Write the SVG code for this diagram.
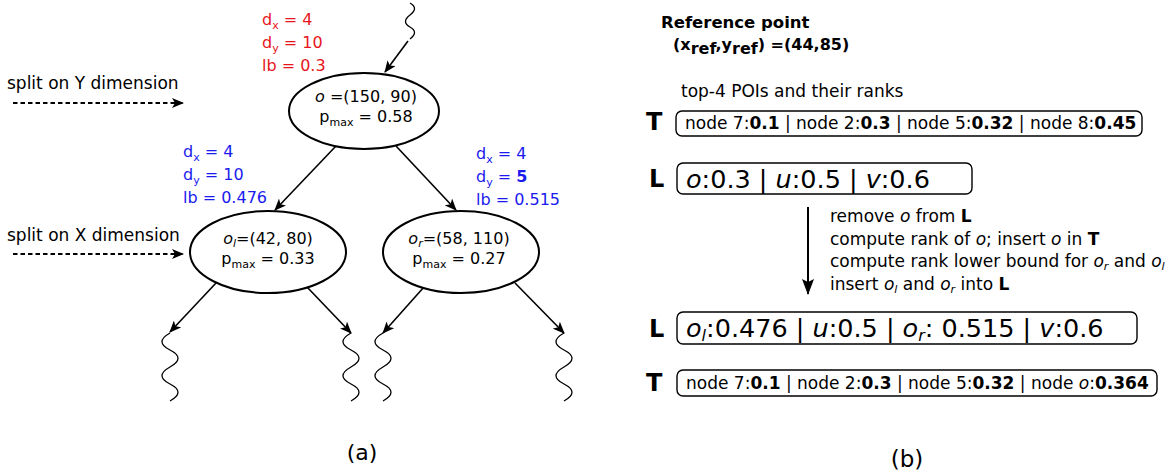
<svg xmlns="http://www.w3.org/2000/svg" width="1174" height="476" viewBox="0 0 1174 476">
<defs>
<style>
text{font-family:"DejaVu Sans","Liberation Sans",sans-serif;fill:#000}
.n{fill:#fff;stroke:#000;stroke-width:2}
.e{stroke:#000;stroke-width:1.6;fill:none;marker-end:url(#ah)}
.d{stroke:#000;stroke-width:2;fill:none;stroke-dasharray:4.5,3;marker-end:url(#ah)}
.w{stroke:#000;stroke-width:1.3;fill:none}
.box{fill:none;stroke:#000;stroke-width:1.4}
.red{fill:#e8141c;font-size:16px}
.blue{fill:#1a1aee;font-size:16px}
.it{font-style:italic}
.b{font-weight:bold}
.sub{font-size:11px}
</style>
<marker id="ah" markerWidth="12" markerHeight="10" refX="11" refY="5" orient="auto" markerUnits="userSpaceOnUse">
<path d="M0,0 L12,5 L0,10 L3,5 z" fill="#000"/>
</marker>
<marker id="ah2" markerWidth="16" markerHeight="12" refX="15" refY="6" orient="auto" markerUnits="userSpaceOnUse">
<path d="M0,0 L16,6 L0,12 L3,6 z" fill="#000"/>
</marker>
</defs>

<g id="connectors">
<path class="w" d="M410,3 q9,5 0,12 t0,12 t0,12"/>
<line class="e" x1="408" y1="41" x2="385" y2="72"/>
<line class="e" x1="336" y1="146" x2="275" y2="210"/>
<line class="e" x1="396" y1="146" x2="456" y2="210"/>
<line class="e" x1="216" y1="283" x2="170" y2="332"/>
<line class="e" x1="307" y1="287" x2="351" y2="333"/>
<line class="e" x1="424" y1="287" x2="383" y2="333"/>
<line class="e" x1="515" y1="283" x2="564" y2="333"/>
<path class="w" d="M170,333 q-16,9 0,17 t0,17 t0,17 t0,17"/>
<path class="w" d="M351,333 q-16,9 0,17 t0,17 t0,17 t0,17"/>
<path class="w" d="M383,333 q-16,9 0,17 t0,17 t0,17 t0,17"/>
<path class="w" d="M564,333 q-16,9 0,17 t0,17 t0,17 t0,17"/>
<line class="d" x1="13" y1="103" x2="183" y2="103"/>
<line class="d" x1="13" y1="254" x2="183" y2="254"/>
<line x1="808" y1="207" x2="808" y2="294" style="stroke:#000;stroke-width:2;marker-end:url(#ah2)"/>
</g>

<g id="labels-left">
<text x="7" y="89" font-size="17">split on Y dimension</text>
<text x="7" y="241" font-size="17">split on X dimension</text>
<text class="red" x="262" y="25">d<tspan class="sub" dy="4">x</tspan><tspan dy="-4"> = 4</tspan></text>
<text class="red" x="262" y="48">d<tspan class="sub" dy="4">y</tspan><tspan dy="-4"> = 10</tspan></text>
<text class="red" x="262" y="71">lb = 0.3</text>
<text class="blue" x="183" y="157">d<tspan class="sub" dy="4">x</tspan><tspan dy="-4"> = 4</tspan></text>
<text class="blue" x="183" y="180">d<tspan class="sub" dy="4">y</tspan><tspan dy="-4"> = 10</tspan></text>
<text class="blue" x="183" y="203">lb = 0.476</text>
<text class="blue" x="476" y="159">d<tspan class="sub" dy="4">x</tspan><tspan dy="-4"> = 4</tspan></text>
<text class="blue" x="476" y="182">d<tspan class="sub" dy="4">y</tspan><tspan dy="-4"> = </tspan><tspan class="b">5</tspan></text>
<text class="blue" x="476" y="205">lb = 0.515</text>
<text x="362" y="460" font-size="22" text-anchor="middle">(a)</text>
<text x="907" y="467" font-size="23" text-anchor="middle">(b)</text>
</g>

<g id="node-root">
<ellipse class="n" cx="364" cy="111" rx="75" ry="38"/>
<text x="366" y="102" font-size="16" text-anchor="middle"><tspan class="it">o</tspan> =(150, 90)</text>
<text x="366" y="122" font-size="16" text-anchor="middle">p<tspan class="sub" dy="4">max</tspan><tspan dy="-4"> = 0.58</tspan></text>
</g>

<g id="node-left">
<ellipse class="n" cx="268" cy="252" rx="78" ry="41"/>
<text x="268" y="244" font-size="16" text-anchor="middle"><tspan class="it">o</tspan><tspan class="sub it" dy="3">l</tspan><tspan dy="-3">=(42, 80)</tspan></text>
<text x="268" y="264" font-size="16" text-anchor="middle">p<tspan class="sub" dy="4">max</tspan><tspan dy="-4"> = 0.33</tspan></text>
</g>

<g id="node-right">
<ellipse class="n" cx="461" cy="252" rx="78" ry="41"/>
<text x="459" y="244" font-size="16" text-anchor="middle"><tspan class="it">o</tspan><tspan class="sub it" dy="3">r</tspan><tspan dy="-3">=(58, 110)</tspan></text>
<text x="459" y="264" font-size="16" text-anchor="middle">p<tspan class="sub" dy="4">max</tspan><tspan dy="-4"> = 0.27</tspan></text>
</g>

<g id="panel-b">
<text class="b" x="661" y="28" font-size="16.5">Reference point</text>
<text class="b" x="673" y="50" font-size="16">(x<tspan dy="4">ref</tspan><tspan dy="-4">,y</tspan><tspan dy="4">ref</tspan><tspan dy="-4">) =(44,85)</tspan></text>
<text x="681" y="97" font-size="17">top-4 POIs and their ranks</text>
</g>

<g id="node-T1">
<text class="b" x="646" y="130" font-size="24">T</text>
<rect class="box" x="676" y="111" width="466" height="25" rx="6"/>
<text x="685" y="129" font-size="17">node 7:<tspan class="b">0.1</tspan> | node 2:<tspan class="b">0.3</tspan> | node 5:<tspan class="b">0.32</tspan> | node 8:<tspan class="b">0.45</tspan></text>
</g>

<g id="node-L1">
<text class="b" x="649" y="187" font-size="24">L</text>
<rect class="box" x="677" y="163" width="295" height="31" rx="6"/>
<text x="686" y="188" font-size="25.5"><tspan class="it">o</tspan>:0.3 | <tspan class="it">u</tspan>:0.5 | <tspan class="it">v</tspan>:0.6</text>
</g>

<g id="step-text">
<text x="830" y="222" font-size="17">remove <tspan class="it">o</tspan> from <tspan class="b">L</tspan></text>
<text x="830" y="245" font-size="17">compute rank of <tspan class="it">o</tspan>; insert <tspan class="it">o</tspan> in <tspan class="b">T</tspan></text>
<text x="830" y="267" font-size="17">compute rank lower bound for <tspan class="it">o</tspan><tspan class="it sub" dy="3">r</tspan><tspan dy="-3"> and </tspan><tspan class="it">o</tspan><tspan class="it sub" dy="3">l</tspan></text>
<text x="830" y="290" font-size="17">insert <tspan class="it">o</tspan><tspan class="it sub" dy="3">l</tspan><tspan dy="-3"> and </tspan><tspan class="it">o</tspan><tspan class="it sub" dy="3">r</tspan><tspan dy="-3"> into </tspan><tspan class="b">L</tspan></text>
</g>

<g id="node-L2">
<text class="b" x="649" y="337" font-size="24">L</text>
<rect class="box" x="677" y="312" width="460" height="32" rx="6"/>
<text x="686" y="337" font-size="25.5"><tspan class="it">o</tspan><tspan class="it" font-size="16" dy="4">l</tspan><tspan dy="-4">:0.476 | </tspan><tspan class="it">u</tspan>:0.5 | <tspan class="it">o</tspan><tspan class="it" font-size="16" dy="4">r</tspan><tspan dy="-4">: 0.515 | </tspan><tspan class="it">v</tspan>:0.6</text>
</g>

<g id="node-T2">
<text class="b" x="646" y="391" font-size="24">T</text>
<rect class="box" x="677" y="370" width="480" height="26" rx="6"/>
<text x="686" y="389" font-size="17">node 7:<tspan class="b">0.1</tspan> | node 2:<tspan class="b">0.3</tspan> | node 5:<tspan class="b">0.32</tspan> | node <tspan class="it">o</tspan>:<tspan class="b">0.364</tspan></text>
</g>
</svg>
